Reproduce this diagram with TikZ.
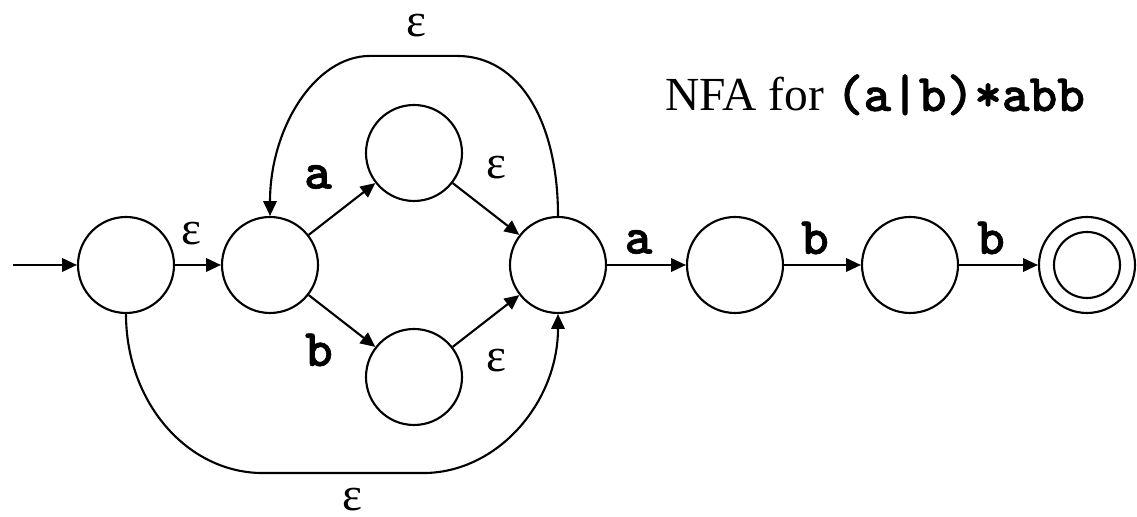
\documentclass[tikz,border=0pt]{standalone}
\usepackage{fontspec}
\setmainfont{Liberation Serif}
\newfontfamily\codefont{lmmonolt10-bold.otf}[FakeBold=1.2]
\usetikzlibrary{arrows.meta, positioning, calc}

\tikzset{
  state/.style={circle, draw, line width=0.6pt, minimum size=0.96cm, inner sep=0pt},
  accept/.style={state, path picture={\draw[line width=0.6pt] (path picture bounding box.center) circle (0.33cm);}},
  trans/.style={-{Triangle[length=4.2pt, width=3.8pt]}, line width=0.6pt},
  eps/.style={font=\fontsize{13.5}{16}\selectfont, inner sep=0pt},
  sym/.style={font=\fontsize{15}{18}\selectfont\codefont, inner sep=0pt},
}

\begin{document}
\begin{tikzpicture}[node distance=1.44cm, on grid]
  \useasboundingbox (0,0) rectangle (11.37,5.17);

  \node[state] (s0) at (1.26,2.52) {};
  \node[state, right=of s0] (s1) {};
  \node[state, above right=1.12cm and 1.44cm of s1] (s2) {};
  \node[state, below right=1.12cm and 1.44cm of s1] (s3) {};
  \node[state, right=2.88cm of s1] (s4) {};
  \node[state, right=1.77cm of s4] (s5) {};
  \node[state, right=1.75cm of s5] (s6) {};
  \node[accept, right=1.77cm of s6] (s7) {};
  \coordinate[left=1.13cm of s0] (start);

  % corners of the two loops
  \coordinate (toptr) at ($(s4.north)+(-1.01,1.60)$);
  \coordinate (toptl) at ($(s1.north)+(1.00,1.60)$);
  \coordinate (botl) at ($(s0.south)+(1.37,-1.59)$);
  \coordinate (botr) at ($(s4.south)+(-1.35,-1.59)$);

  \node[anchor=base west, font=\fontsize{13.5}{16}\selectfont] (title) at (6.53,4.06)
    {NFA for {\fontsize{15}{18}\selectfont\codefont (a|b)*abb}};

  % transitions
  \draw[trans] (start) -- (s0);
  \draw[trans] (s0) -- node[eps, xshift=-0.7mm, yshift=3.1mm] {ε} (s1);
  \draw[trans] (s1) -- node[sym, xshift=-2.4mm, yshift=3.2mm] {a} (s2);
  \draw[trans] (s1) -- node[sym, xshift=-2.3mm, yshift=-2.9mm] {b} (s3);
  \draw[trans] (s2) -- node[eps, xshift=1mm, yshift=4.1mm] {ε} (s4);
  \draw[trans] (s3) -- node[eps, xshift=1mm, yshift=-4mm] {ε} (s4);
  \draw[trans] (s4) -- node[sym, xshift=-0.8mm, yshift=2.3mm] {a} (s5);
  \draw[trans] (s5) -- node[sym, xshift=-0.75mm, yshift=2.7mm] {b} (s6);
  \draw[trans] (s6) -- node[sym, xshift=-0.75mm, yshift=2.7mm] {b} (s7);

  % loops
  \draw[trans] (s4.north) .. controls +(0,0.95) and +(0.62,0) .. (toptr)
    -- node[eps, xshift=0.25mm, yshift=3.0mm] {ε} (toptl)
    .. controls +(-0.55,0) and +(0,0.88) .. (s1.north);
  \draw[trans] (s0.south) .. controls +(0,-0.88) and +(-0.76,0) .. (botl)
    -- node[eps, xshift=0.9mm, yshift=-2.7mm] {ε} (botr)
    .. controls +(0.75,0) and +(0,-0.88) .. (s4.south);
\end{tikzpicture}
\end{document}
